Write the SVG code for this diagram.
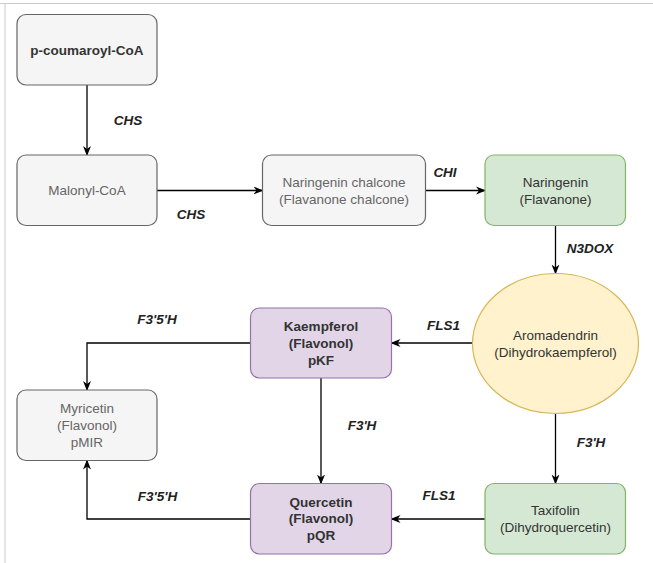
<svg xmlns="http://www.w3.org/2000/svg" width="653" height="563" viewBox="0 0 653 563">
<style>
text{font-family:"Liberation Sans",Arial,sans-serif;font-size:13.5px;text-anchor:middle;dominant-baseline:central}
.gray rect{fill:#f5f5f5;stroke:#666666;stroke-width:1.2}
.green rect{fill:#d5e8d4;stroke:#82b366;stroke-width:1.2}
.purple rect{fill:#e1d5e7;stroke:#9673a6;stroke-width:1.2}
.t1{fill:#333333}
.t2{fill:#666666}
.b{font-weight:bold}
.lbl{font-style:italic;font-weight:bold;fill:#222222}
.conn path{fill:none;stroke:#000000;stroke-width:1.3;marker-end:url(#arr)}
</style>
<defs>
<marker id="arr" viewBox="0 0 10 10" refX="9" refY="5" markerWidth="10" markerHeight="10" markerUnits="userSpaceOnUse" orient="auto">
<path d="M0,1 L10,5 L0,9 L3,5 Z" fill="#000000"/>
</marker>
</defs>
<rect x="0" y="0" width="653" height="563" fill="#ffffff"/>
<line x1="0" y1="3.5" x2="653" y2="3.5" stroke="#cccccc" stroke-width="1"/>
<line x1="5" y1="3.5" x2="5" y2="563" stroke="#cccccc" stroke-width="1"/>

<g id="conn" class="conn">
<path d="M87,85 L87,155"/>
<path d="M157,190.5 L262.5,190.5"/>
<path d="M425.5,190.5 L485,190.5"/>
<path d="M555.5,225.5 L555.5,273.5"/>
<path d="M472.5,343 L391.5,343"/>
<path d="M250.5,343 L87,343 L87,390"/>
<path d="M321,378 L321,483.5"/>
<path d="M555.5,413.5 L555.5,483.5"/>
<path d="M485,519 L391.5,519"/>
<path d="M250.5,519 L87,519 L87,460.5"/>
</g>

<g id="labels">
<text class="lbl" x="128" y="120">CHS</text>
<text class="lbl" x="191" y="214">CHS</text>
<text class="lbl" x="445" y="172">CHI</text>
<text class="lbl" x="590" y="248">N3DOX</text>
<text class="lbl" x="443.5" y="325.5">FLS1</text>
<text class="lbl" x="157" y="319.5">F3'5'H</text>
<text class="lbl" x="362" y="425">F3'H</text>
<text class="lbl" x="591" y="442.5">F3'H</text>
<text class="lbl" x="439" y="495">FLS1</text>
<text class="lbl" x="157.5" y="496">F3'5'H</text>
</g>

<g id="pcoumaroyl" class="gray">
<rect x="17" y="14.5" width="140" height="70.5" rx="9"/>
<text class="t1 b" x="87" y="50">p-coumaroyl-CoA</text>
</g>
<g id="malonyl" class="gray">
<rect x="17" y="155" width="140" height="70.5" rx="9"/>
<text class="t2" x="87" y="190.5">Malonyl-CoA</text>
</g>
<g id="chalcone" class="gray">
<rect x="262.5" y="155" width="163" height="70.5" rx="9"/>
<text class="t2" x="344" y="182">Naringenin chalcone</text>
<text class="t2" x="344" y="199.5">(Flavanone chalcone)</text>
</g>
<g id="naringenin" class="green">
<rect x="485" y="155" width="140.5" height="70.5" rx="9"/>
<text class="t1" x="555.5" y="182">Naringenin</text>
<text class="t1" x="555.5" y="199.5">(Flavanone)</text>
</g>
<g id="aromadendrin">
<ellipse cx="555.5" cy="343.5" rx="83" ry="70" fill="#fff2cc" stroke="#d6b656" stroke-width="1.2"/>
<text class="t1" x="555.5" y="335">Aromadendrin</text>
<text class="t1" x="555.5" y="352.5">(Dihydrokaempferol)</text>
</g>
<g id="kaempferol" class="purple">
<rect x="250.5" y="308" width="141" height="70" rx="9"/>
<text class="t1 b" x="321" y="326.5">Kaempferol</text>
<text class="t1 b" x="321" y="343.3">(Flavonol)</text>
<text class="t1 b" x="321" y="360">pKF</text>
</g>
<g id="myricetin" class="gray">
<rect x="17" y="390" width="140" height="70.5" rx="9"/>
<text class="t2" x="87" y="408.5">Myricetin</text>
<text class="t2" x="87" y="425.5">(Flavonol)</text>
<text class="t2" x="87" y="442.5">pMIR</text>
</g>
<g id="quercetin" class="purple">
<rect x="250.5" y="483.5" width="141" height="70.5" rx="9"/>
<text class="t1 b" x="321" y="502">Quercetin</text>
<text class="t1 b" x="321" y="518.7">(Flavonol)</text>
<text class="t1 b" x="321" y="535.5">pQR</text>
</g>
<g id="taxifolin" class="green">
<rect x="485" y="483.5" width="140.5" height="70.5" rx="9"/>
<text class="t1" x="555.5" y="510">Taxifolin</text>
<text class="t1" x="555.5" y="527.5">(Dihydroquercetin)</text>
</g>
</svg>
